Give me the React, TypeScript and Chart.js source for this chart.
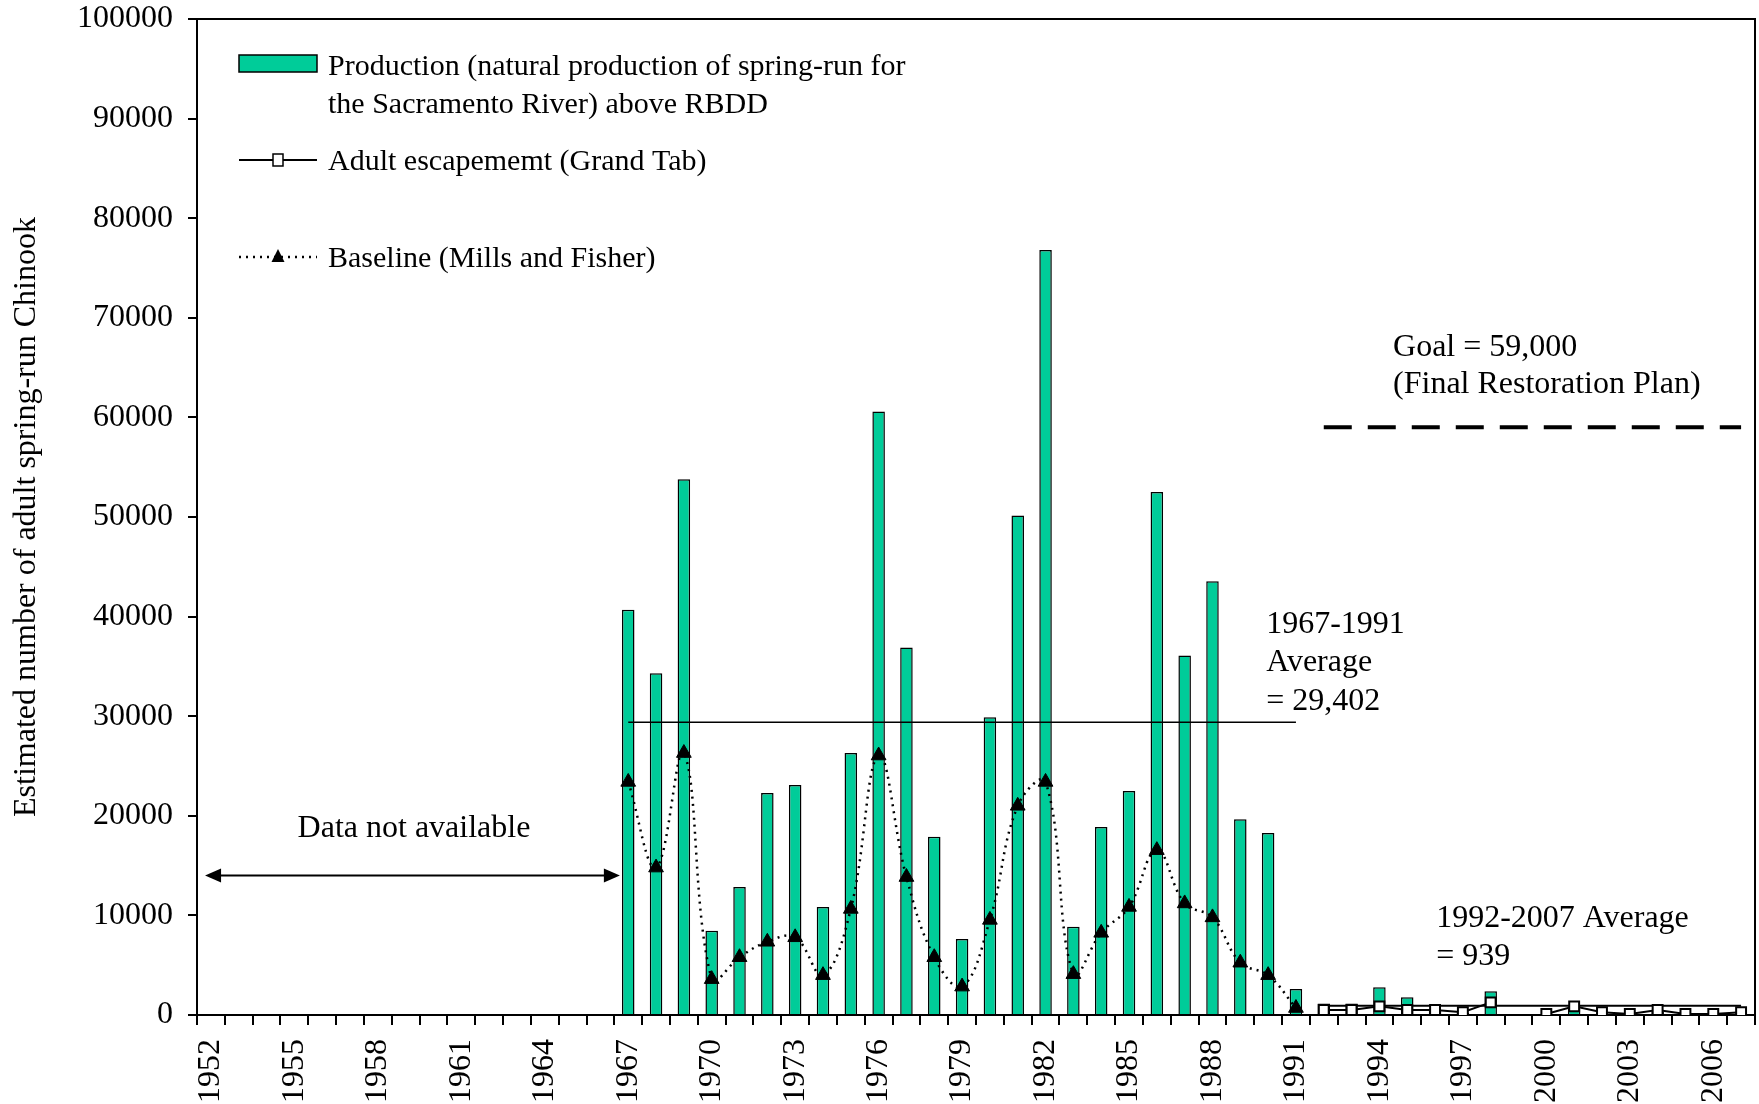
import React, { useEffect, useRef } from 'react';
import { Chart, registerables } from 'chart.js';

Chart.register(...registerables);

const FONT = "'Liberation Serif', 'Times New Roman', serif";
const FS = 32;
const LEGEND_FS = 30;
const GREEN = '#00CC99';

const years = [
  '1952', '1953', '1954', '1955', '1956', '1957', '1958', '1959', '1960', '1961',
  '1962', '1963', '1964', '1965', '1966', '1967', '1968', '1969', '1970', '1971',
  '1972', '1973', '1974', '1975', '1976', '1977', '1978', '1979', '1980', '1981',
  '1982', '1983', '1984', '1985', '1986', '1987', '1988', '1989', '1990', '1991',
  '1992', '1993', '1994', '1995', '1996', '1997', '1998', '1999', '2000', '2001',
  '2002', '2003', '2004', '2005', '2006', '2007',
];

const N = null;
// Production (natural production of spring-run) above RBDD
const production = [
  N, N, N, N, N, N, N, N, N, N, N, N, N, N, N,
  40700, 34300, 53800, 8450, 12850, 22300, 23100, 10850, 26300, 60580,
  36900, 17900, 7620, 29900, 50150, 76800, 8850, 18880, 22480, 52500,
  36100, 43550, 19650, 18280, 2620,
  1150, 1150, 2780, 1780, 400, 200, 2380, N, N, 600, N, N, 300, N, N, N,
];

// Adult escapement (Grand Tab)
const adult = [
  N, N, N, N, N, N, N, N, N, N, N, N, N, N, N,
  N, N, N, N, N, N, N, N, N, N, N, N, N, N, N, N, N, N, N, N, N, N, N, N, N,
  500, 500, 870, 500, 500, 270, 1270, N, 100, 870, 270, 100, 500, 100, 100, 270,
];

// Baseline (Mills and Fisher)
const baseline = [
  N, N, N, N, N, N, N, N, N, N, N, N, N, N, N,
  23400, 14800, 26300, 3600, 5800, 7350, 7800, 4000, 10650, 26050,
  13850, 5800, 2850, 9550, 21000, 23400, 4100, 8250, 10850, 16550,
  11200, 9800, 5250, 4000, 700,
  N, N, N, N, N, N, N, N, N, N, N, N, N, N, N, N,
];

const AVG_EARLY = 29402; // 1967-1991
const AVG_LATE = 939; // 1992-2007
const GOAL = 59000;

const yTicks = [0, 10000, 20000, 30000, 40000, 50000, 60000, 70000, 80000, 90000, 100000];

const inRange = (y: string, a: number, b: number) => Number(y) >= a && Number(y) <= b;
const avgEarly = years.map((y) => (inRange(y, 1967, 1991) ? AVG_EARLY : null));
const avgLate = years.map((y) => (inRange(y, 1992, 2007) ? AVG_LATE : null));
const goalLine = years.map((y) => (inRange(y, 1992, 2007) ? GOAL : null));

const legendLabels = [
  ['Production (natural production of spring-run for', 'the Sacramento River) above RBDD'],
  ['Adult escapememt (Grand Tab)'],
  ['Baseline (Mills and Fisher)'],
];

// annotation texts anchored at (category index, data value), alphabetic baseline
const notes = [
  { x: 42.49, y: 66165, text: 'Goal = 59,000', align: 'left' },
  { x: 42.49, y: 62450, text: '(Final Restoration Plan)', align: 'left' },
  { x: 37.93, y: 38353, text: '1967-1991', align: 'left' },
  { x: 37.93, y: 34538, text: 'Average', align: 'left' },
  { x: 37.93, y: 30622, text: '= 29,402', align: 'left' },
  { x: 44.04, y: 8835, text: '1992-2007 Average', align: 'left' },
  { x: 44.04, y: 5020, text: '= 939', align: 'left' },
  { x: 7.3, y: 17871, text: 'Data not available', align: 'center' },
];
const arrow = { x1: -0.21, x2: 14.7, y: 14000 };

const decorPlugin = {
  id: 'decor',
  afterDraw(chart: any) {
    const ctx = chart.ctx as CanvasRenderingContext2D;
    const ca = chart.chartArea;
    const xs = chart.scales.x;
    const ys = chart.scales.y;
    ctx.save();
    // frame top & right
    ctx.strokeStyle = '#000';
    ctx.lineWidth = 2;
    ctx.beginPath();
    ctx.moveTo(ca.left, ca.top);
    ctx.lineTo(ca.right, ca.top);
    ctx.lineTo(ca.right, ca.bottom);
    ctx.stroke();

    // annotations
    ctx.fillStyle = '#000';
    ctx.font = `${FS}px ${FONT}`;
    ctx.textBaseline = 'alphabetic';
    for (const n of notes) {
      ctx.textAlign = n.align as CanvasTextAlign;
      ctx.fillText(n.text, xs.getPixelForValue(n.x), ys.getPixelForValue(n.y));
    }

    // double arrow
    const ax1 = xs.getPixelForValue(arrow.x1);
    const ax2 = xs.getPixelForValue(arrow.x2);
    const ay = ys.getPixelForValue(arrow.y);
    ctx.lineWidth = 2;
    ctx.beginPath();
    ctx.moveTo(ax1 + 10, ay);
    ctx.lineTo(ax2 - 10, ay);
    ctx.stroke();
    ctx.beginPath();
    ctx.moveTo(ax1, ay);
    ctx.lineTo(ax1 + 16, ay - 7);
    ctx.lineTo(ax1 + 16, ay + 7);
    ctx.closePath();
    ctx.fill();
    ctx.beginPath();
    ctx.moveTo(ax2, ay);
    ctx.lineTo(ax2 - 16, ay - 7);
    ctx.lineTo(ax2 - 16, ay + 7);
    ctx.closePath();
    ctx.fill();

    // legend
    const L = ca.left;
    const T = ca.top;
    const mx = L + 81;
    ctx.font = `${LEGEND_FS}px ${FONT}`;
    ctx.textAlign = 'left';
    ctx.fillStyle = GREEN;
    ctx.fillRect(L + 42, T + 36, 78, 17);
    ctx.lineWidth = 1.5;
    ctx.strokeStyle = '#000';
    ctx.strokeRect(L + 42, T + 36, 78, 17);
    ctx.fillStyle = '#000';
    ctx.fillText(legendLabels[0][0], L + 131, T + 56);
    ctx.fillText(legendLabels[0][1], L + 131, T + 94);

    const r2 = T + 141;
    ctx.lineWidth = 2;
    ctx.beginPath();
    ctx.moveTo(L + 42, r2);
    ctx.lineTo(L + 120, r2);
    ctx.stroke();
    ctx.fillStyle = '#fff';
    ctx.fillRect(mx - 5, r2 - 6, 10, 12);
    ctx.lineWidth = 1.5;
    ctx.strokeRect(mx - 5, r2 - 6, 10, 12);
    ctx.fillStyle = '#000';
    ctx.fillText(legendLabels[1][0], L + 131, T + 151);

    const r3 = T + 238;
    ctx.lineWidth = 2.5;
    ctx.setLineDash([2, 5]);
    ctx.beginPath();
    ctx.moveTo(L + 42, r3);
    ctx.lineTo(L + 120, r3);
    ctx.stroke();
    ctx.setLineDash([]);
    ctx.beginPath();
    ctx.moveTo(mx, r3 - 8);
    ctx.lineTo(mx + 6.5, r3 + 5);
    ctx.lineTo(mx - 6.5, r3 + 5);
    ctx.closePath();
    ctx.fill();
    ctx.fillText(legendLabels[2][0], L + 131, T + 248);
    ctx.restore();
  },
};

export default function App() {
  const ref = useRef<HTMLCanvasElement>(null);
  useEffect(() => {
    if (!ref.current) return;
    const chart = new Chart(ref.current, {
      type: 'bar',
      data: {
        labels: years,
        datasets: [
          {
            type: 'line',
            label: 'Adult escapememt (Grand Tab)',
            data: adult,
            borderColor: '#000',
            borderWidth: 2,
            pointStyle: 'rect',
            pointRadius: 7,
            pointBackgroundColor: '#fff',
            pointBorderColor: '#000',
            pointBorderWidth: 2,
            spanGaps: false,
            tension: 0,
            order: 0,
          } as any,
          {
            type: 'line',
            label: 'Baseline (Mills and Fisher)',
            data: baseline,
            borderColor: '#000',
            borderWidth: 2.5,
            borderDash: [2, 5],
            pointStyle: 'triangle',
            pointRadius: 8.5,
            pointBackgroundColor: '#000',
            pointBorderColor: '#000',
            pointBorderWidth: 1,
            tension: 0.4,
            order: 1,
          } as any,
          {
            type: 'line',
            label: '1992-2007 average',
            data: avgLate,
            borderColor: '#000',
            borderWidth: 2,
            pointRadius: 0,
            order: 2,
          } as any,
          {
            type: 'line',
            label: '1967-1991 average',
            data: avgEarly,
            borderColor: '#000',
            borderWidth: 1.5,
            pointRadius: 0,
            order: 2,
          } as any,
          {
            type: 'line',
            label: 'Goal',
            data: goalLine,
            borderColor: '#000',
            borderWidth: 4,
            borderDash: [28, 16],
            pointRadius: 0,
            order: 2,
          } as any,
          {
            type: 'bar',
            label: 'Production',
            data: production,
            backgroundColor: GREEN,
            borderColor: '#000',
            borderWidth: 1.5,
            categoryPercentage: 1,
            barPercentage: 0.45,
            order: 10,
          } as any,
        ],
      },
      options: {
        animation: false,
        responsive: false,
        events: [],
        layout: { autoPadding: false, padding: { top: 19, right: 4, left: 0, bottom: 0 } },
        plugins: {
          legend: { display: false },
          tooltip: { enabled: false },
          title: { display: false },
        },
        scales: {
          x: {
            type: 'category',
            offset: true,
            afterFit: (s: any) => {
              s.height = 89;
              s.paddingLeft = 0;
              s.paddingRight = 0;
              s.paddingTop = 0;
              s.paddingBottom = 0;
            },
            grid: {
              display: true,
              offset: true,
              drawOnChartArea: false,
              drawTicks: true,
              tickLength: 10,
              color: '#000',
              lineWidth: 2,
            },
            border: { display: true, color: '#000', width: 2 },
            ticks: {
              autoSkip: false,
              minRotation: 90,
              maxRotation: 90,
              padding: 14,
              color: '#000',
              font: { family: FONT, size: FS },
              callback: (_v: any, i: number) => (i % 3 === 0 ? years[i] : ''),
            },
          },
          y: {
            min: 0,
            max: 100000,
            afterFit: (s: any) => {
              s.width = 197;
              s.paddingLeft = 0;
              s.paddingRight = 0;
              s.paddingTop = 0;
              s.paddingBottom = 0;
            },
            afterBuildTicks: (s: any) => {
              s.ticks = yTicks.map((v) => ({ value: v }));
            },
            grid: {
              display: true,
              drawOnChartArea: false,
              drawTicks: true,
              tickLength: 9,
              color: '#000',
              lineWidth: 2,
            },
            border: { display: true, color: '#000', width: 2 },
            ticks: {
              padding: 15,
              color: '#000',
              font: { family: FONT, size: FS },
              callback: (v: any) => String(v),
            },
            title: {
              display: true,
              text: 'Estimated number of adult spring-run Chinook',
              color: '#000',
              font: { family: FONT, size: FS },
              padding: { top: 7, bottom: 0 },
            },
          },
        },
      },
      plugins: [decorPlugin],
    });
    return () => chart.destroy();
  }, []);
  return (
    <div style={{ position: 'fixed', left: 0, top: 0, width: 1759, height: 1104, background: '#fff' }}>
      <canvas ref={ref} width={1759} height={1104} style={{ display: 'block' }} />
    </div>
  );
}
